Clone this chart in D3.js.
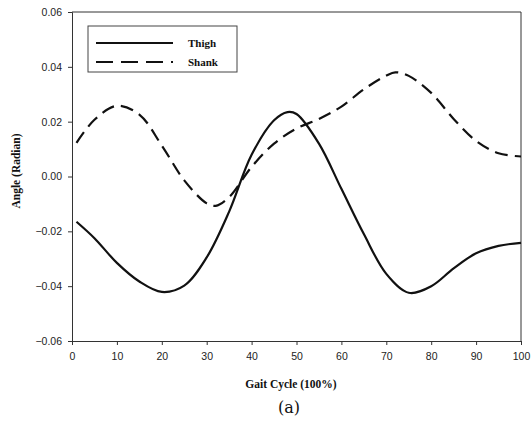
<!DOCTYPE html>
<html>
<head>
<meta charset="utf-8">
<script src="https://cdn.jsdelivr.net/npm/d3@7"></script>
<style>
  body { margin: 0; background: #fff; }
</style>
</head>
<body>
<script>
// gait cycle positions (%) and the two joint angle series (radian)
var gaitPct = [1, 5, 10, 15, 20, 25, 30, 35, 40, 45, 48, 50, 55, 60, 65, 70, 75, 80, 85, 90, 95, 100];
var thigh = [-0.0165, -0.0225, -0.0315, -0.0383, -0.0421, -0.0398, -0.0295, -0.0128, 0.0079, 0.0205, 0.0235, 0.0228,
             0.012, -0.0045, -0.021, -0.0355, -0.0424, -0.0400, -0.0335, -0.0280, -0.0253, -0.0242];
var shankPct = [1, 5, 10, 15, 20, 25, 30, 32, 35, 40, 45, 50, 55, 60, 65, 70, 72, 75, 80, 85, 90, 95, 100];
var shank = [0.0123, 0.0207, 0.0258, 0.0226, 0.0113, -0.0014, -0.0098, -0.0107, -0.0075, 0.0035, 0.012, 0.0175,
             0.021, 0.0255, 0.0318, 0.0368, 0.0380, 0.0367, 0.0305, 0.0210, 0.0130, 0.0085, 0.0073];
var xTicks = [0, 10, 20, 30, 40, 50, 60, 70, 80, 90, 100];
var yTicks = [-0.06, -0.04, -0.02, 0.00, 0.02, 0.04, 0.06];
var seriesNames = ["Thigh", "Shank"];

var width = 532, height = 432;
var plotLeft = 72, plotRight = 521, plotTop = 12, plotBottom = 341;

var svg = d3.select("body").append("svg")
    .attr("width", width)
    .attr("height", height);

var x = d3.scaleLinear().domain([0, 100]).range([plotLeft, plotRight]);
var y = d3.scaleLinear().domain([-0.06, 0.06]).range([plotBottom, plotTop]);

// frame (top and right border)
svg.append("path")
    .attr("d", "M" + plotLeft + "," + plotTop + "H" + plotRight + "V" + plotBottom)
    .attr("fill", "none")
    .attr("stroke", "#333")
    .attr("stroke-width", 1);

var xAxis = svg.append("g")
    .attr("transform", "translate(0," + plotBottom + ")")
    .call(d3.axisBottom(x).tickValues(xTicks).tickSize(4).tickPadding(8).tickFormat(d3.format("d")));

var yAxis = svg.append("g")
    .attr("transform", "translate(" + plotLeft + ",0)")
    .call(d3.axisLeft(y).tickValues(yTicks).tickSize(4).tickPadding(6).tickFormat(d3.format(".2f")));

[xAxis, yAxis].forEach(function(a) {
    a.select(".domain").attr("stroke", "#333");
    a.selectAll(".tick line").attr("stroke", "#333");
    a.selectAll("text")
        .attr("font-family", "Arial, 'Liberation Sans', sans-serif")
        .attr("font-size", 10.5)
        .attr("fill", "#222");
});

var line = d3.line()
    .x(function(d) { return x(d[0]); })
    .y(function(d) { return y(d[1]); })
    .curve(d3.curveCatmullRom.alpha(0.5));

svg.append("path")
    .datum(d3.zip(gaitPct, thigh))
    .attr("d", line)
    .attr("fill", "none")
    .attr("stroke", "#111")
    .attr("stroke-width", 2.2);

svg.append("path")
    .datum(d3.zip(shankPct, shank))
    .attr("d", line)
    .attr("fill", "none")
    .attr("stroke", "#111")
    .attr("stroke-width", 2.2)
    .attr("stroke-dasharray", "13,7");

// legend
var legend = svg.append("g");
legend.append("rect")
    .attr("x", 88).attr("y", 26)
    .attr("width", 149).attr("height", 46)
    .attr("fill", "#fff")
    .attr("stroke", "#444")
    .attr("stroke-width", 1);

seriesNames.forEach(function(name, i) {
    var ly = 43 + i * 19;
    legend.append("line")
        .attr("x1", 96).attr("x2", 173)
        .attr("y1", ly).attr("y2", ly)
        .attr("stroke", "#111")
        .attr("stroke-width", 2.2)
        .attr("stroke-dasharray", i == 1 ? "17,8" : null);
    legend.append("text")
        .attr("x", 188).attr("y", ly + 4)
        .attr("font-family", "'Liberation Serif', 'Times New Roman', serif")
        .attr("font-weight", "bold")
        .attr("font-size", 11)
        .attr("fill", "#111")
        .text(name);
});

// axis titles
svg.append("text")
    .attr("transform", "translate(20," + 171 + ") rotate(-90)")
    .attr("text-anchor", "middle")
    .attr("font-family", "'Liberation Serif', 'Times New Roman', serif")
    .attr("font-weight", "bold")
    .attr("font-size", 11.5)
    .attr("fill", "#111")
    .text("Angle (Radian)");

svg.append("text")
    .attr("x", 291).attr("y", 388)
    .attr("text-anchor", "middle")
    .attr("font-family", "'Liberation Serif', 'Times New Roman', serif")
    .attr("font-weight", "bold")
    .attr("font-size", 11.5)
    .attr("fill", "#111")
    .text("Gait Cycle (100%)");

svg.append("text")
    .attr("x", 289).attr("y", 413)
    .attr("text-anchor", "middle")
    .attr("font-family", "'DejaVu Serif', 'Liberation Serif', serif")
    .attr("font-size", 16)
    .attr("fill", "#111")
    .text("(a)");
</script>
</body>
</html>
